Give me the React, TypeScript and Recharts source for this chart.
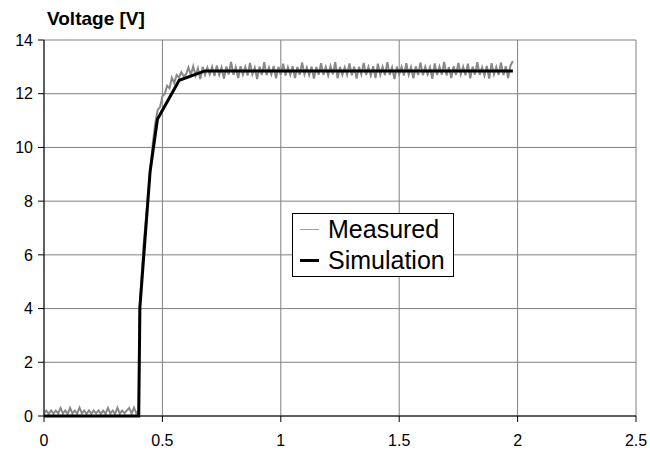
import { LineChart, Line, XAxis, YAxis, CartesianGrid } from 'recharts';

const xTicks = [0, 0.5, 1, 1.5, 2, 2.5];
const yTicks = [0, 2, 4, 6, 8, 10, 12, 14];

// simulation curve [time s, voltage V]
const simTime = [0, 0.4, 0.405, 0.448, 0.479, 0.571, 0.68, 1.98];
const simVolt = [0, 0, 4.05, 9.1, 11.05, 12.5, 12.85, 12.85];

// measured: low level before switch-on, sampled every 0.01 s from 0
const lowVolt = [
  0.1, 0.2, 0.08, 0.21, 0.09, 0.2, 0.1, 0.3, 0.09, 0.21, 0.08, 0.3, 0.1, 0.2,
  0.09, 0.31, 0.1, 0.2, 0.08, 0.21, 0.09, 0.2, 0.1, 0.21, 0.08, 0.2, 0.09, 0.3,
  0.1, 0.2, 0.08, 0.31, 0.09, 0.2, 0.1, 0.21, 0.3, 0.09, 0.31, 0.1, 0.2,
];

// measured: rising edge [time, voltage]
const riseTime = [0.401, 0.403, 0.42, 0.445, 0.46, 0.47, 0.48, 0.49, 0.5, 0.51, 0.52, 0.53, 0.54, 0.55, 0.56, 0.57, 0.58, 0.59];
const riseVolt = [2.0, 3.9, 6.3, 8.8, 10.2, 10.9, 11.4, 11.5, 11.9, 12.0, 12.3, 12.2, 12.6, 12.4, 12.7, 12.6, 12.8, 12.65];

// measured: plateau, sampled every 0.01 s from 0.60 to 1.98
const plateauVolt = [
  12.72, 12.98, 12.7, 13.02, 12.68, 12.95, 12.55, 13.0, 12.7, 12.97,
  12.72, 13.0, 12.66, 13.05, 12.7, 12.98, 12.56, 13.01, 12.72, 13.18,
  12.7, 12.99, 12.58, 13.02, 12.71, 13.0, 12.68, 13.15, 12.72, 12.97,
  12.55, 13.01, 12.7, 13.17, 12.69, 12.98, 12.72, 13.03, 12.57, 13.0,
  12.7, 13.12, 12.68, 12.99, 12.71, 13.02, 12.58, 13.0, 12.7, 13.16,
  12.72, 12.98, 12.69, 13.01, 12.56, 13.0, 12.71, 13.14, 12.7, 12.99,
  12.68, 13.03, 12.72, 13.18, 12.57, 13.0, 12.7, 12.98, 12.71, 13.13,
  12.69, 13.01, 12.56, 13.0, 12.72, 13.15, 12.7, 12.99, 12.68, 13.02,
  12.58, 13.12, 12.71, 13.0, 12.69, 13.17, 12.7, 12.98, 12.55, 13.01,
  12.72, 13.0, 12.68, 13.14, 12.71, 12.99, 12.57, 13.02, 12.7, 13.16,
  12.69, 13.0, 12.72, 12.98, 12.56, 13.13, 12.7, 13.01, 12.71, 13.18,
  12.68, 12.99, 12.58, 13.02, 12.7, 13.15, 12.72, 13.0, 12.69, 13.12,
  12.57, 13.01, 12.71, 13.17, 12.7, 12.98, 12.68, 13.03, 12.56, 13.14,
  12.72, 13.0, 12.7, 13.16, 12.69, 13.02, 12.58, 13.05, 13.22,
];

const simData = simTime.map((t, i) => ({ t, v: simVolt[i] }));
const measuredData = [
  ...lowVolt.map((v, i) => ({ t: +(i * 0.01).toFixed(3), v })),
  ...riseTime.map((t, i) => ({ t, v: riseVolt[i] })),
  ...plateauVolt.map((v, i) => ({ t: +(0.6 + i * 0.01).toFixed(3), v })),
];

const FONT = 'Arial, "Liberation Sans", sans-serif';

function LegendBox() {
  const row = { display: 'flex', alignItems: 'center', height: 31 } as const;
  return (
    <div
      style={{
        position: 'absolute',
        left: 292,
        top: 213,
        width: 160,
        height: 62,
        border: '1px solid #000',
        background: '#fff',
        fontFamily: FONT,
        fontSize: 25,
        color: '#000',
      }}
    >
      <div style={row}>
        <span style={{ display: 'inline-block', width: 19, height: 1, background: '#a0a0a0', margin: '0 9px 0 7px' }} />
        Measured
      </div>
      <div style={row}>
        <span style={{ display: 'inline-block', width: 19, height: 3, background: '#000', margin: '0 9px 0 7px' }} />
        Simulation
      </div>
    </div>
  );
}

export default function App() {
  return (
    <div style={{ position: 'relative', width: 650, height: 456, background: '#fff' }}>
      <style>{'body{margin:0}'}</style>
      <div
        style={{
          position: 'absolute',
          left: 47,
          top: 8,
          fontFamily: FONT,
          fontWeight: 'bold',
          fontSize: 19,
          lineHeight: '22px',
          color: '#000',
        }}
      >
        Voltage [V]
      </div>
      <LineChart width={650} height={456} margin={{ top: 40, right: 14, bottom: 0, left: 0 }}>
        <CartesianGrid stroke="#808080" strokeWidth={1} />
        <XAxis
          dataKey="t"
          type="number"
          domain={[0, 2.5]}
          ticks={xTicks}
          height={40}
          tickSize={6}
          tickMargin={13}
          axisLine={{ stroke: '#000' }}
          tickLine={{ stroke: '#000' }}
          tick={{ fill: '#000', fontSize: 16, fontFamily: FONT }}
          allowDataOverflow
        />
        <YAxis
          type="number"
          domain={[0, 14]}
          ticks={yTicks}
          width={44}
          tickSize={6}
          tickMargin={5}
          axisLine={{ stroke: '#000' }}
          tickLine={{ stroke: '#000' }}
          tick={{ fill: '#000', fontSize: 16, fontFamily: FONT }}
          interval={0}
        />
        <Line
          data={measuredData}
          dataKey="v"
          name="Measured"
          type="linear"
          stroke="#888888"
          strokeWidth={2}
          dot={false}
          isAnimationActive={false}
        />
        <Line
          data={simData}
          dataKey="v"
          name="Simulation"
          type="linear"
          stroke="#000"
          strokeWidth={3}
          dot={false}
          isAnimationActive={false}
        />
      </LineChart>
      <LegendBox />
    </div>
  );
}
